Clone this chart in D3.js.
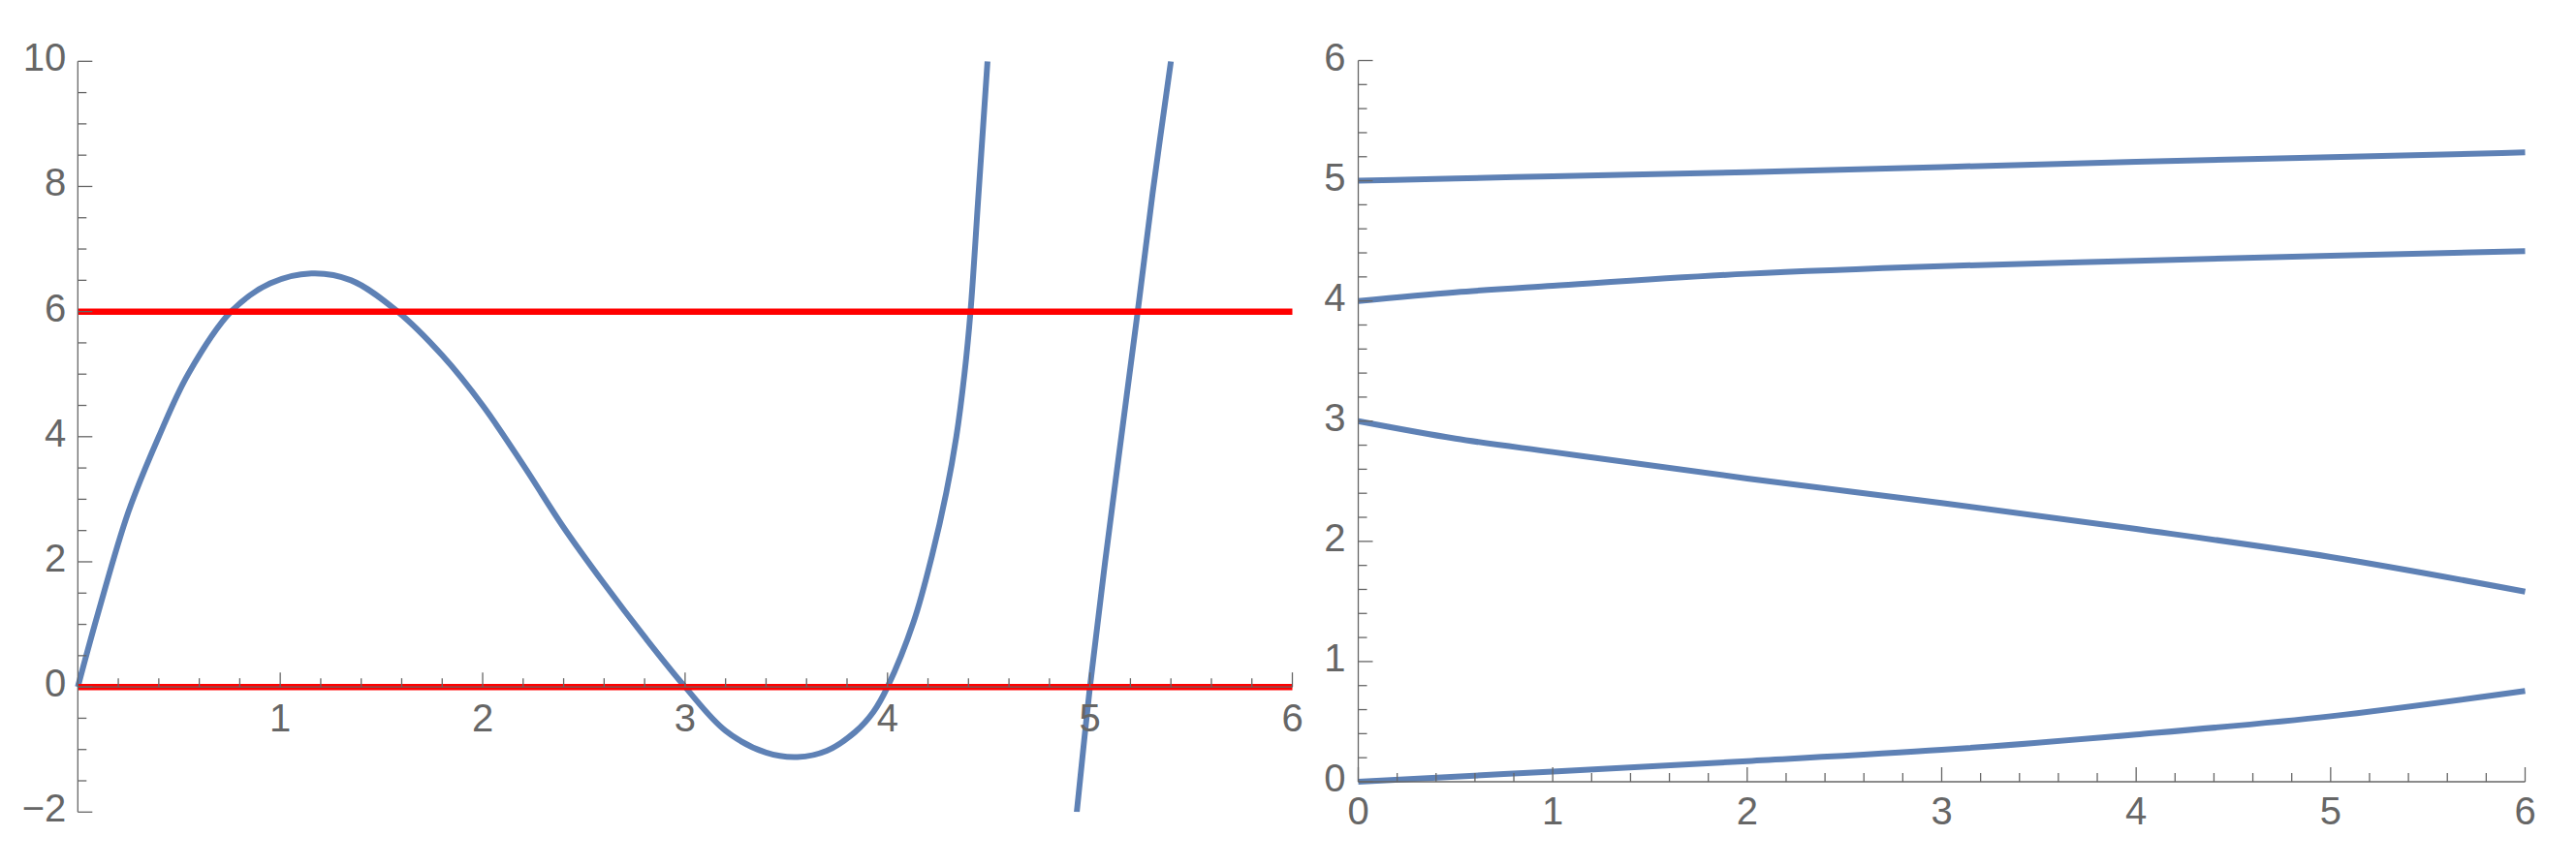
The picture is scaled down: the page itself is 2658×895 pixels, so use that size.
<!DOCTYPE html>
<html>
<head>
<meta charset="utf-8">
<script src="https://cdn.jsdelivr.net/npm/d3@7"></script>
<style>
	html, body { margin: 0; padding: 0; background: #fff; }
	svg { display: block; }
</style>
</head>
<body>
<div id="chart"></div>
<script>
// Two panels: f(lambda) with level lines (left), roots of f = t (right)

// ---- data ----
// left panel, first branch (lambda, f)
const branch1Lambda = [0, 0.1, 0.25, 0.4, 0.545, 0.757, 0.95, 1.154, 1.35, 1.58, 1.8, 2.0, 2.2, 2.4, 2.6, 2.8, 3.0, 3.2, 3.4, 3.555, 3.7, 3.84, 3.93, 4.0, 4.13, 4.22, 4.29, 4.34, 4.38, 4.41, 4.45, 4.494];
const branch1F = [0, 1.18, 2.8, 4.0, 5.0, 6.0, 6.45, 6.61, 6.5, 6.0, 5.3, 4.5, 3.55, 2.55, 1.65, 0.8, 0, -0.7, -1.05, -1.12, -1.02, -0.72, -0.4, 0, 1.05, 2.1, 3.1, 4.0, 5.0, 6.0, 7.9, 10.0];
// left panel, second branch
const branch2Lambda = [4.935, 5.0, 5.075, 5.155, 5.236, 5.31, 5.4];
const branch2F = [-2.0, 0, 2.0, 4.0, 6.0, 7.9, 10.0];
// horizontal level lines
const levels = [0, 6];

// right panel: t values and the four roots
const tValues = [0, 0.5, 1, 2, 3, 4, 5, 6];
const rootA = [0, 0.043, 0.085, 0.172, 0.265, 0.393, 0.545, 0.755];
const rootB = [3.0, 2.855, 2.743, 2.523, 2.319, 2.103, 1.87, 1.582];
const rootC = [4.0, 4.072, 4.126, 4.226, 4.29, 4.334, 4.376, 4.414];
const rootD = [5.0, 5.019, 5.037, 5.072, 5.114, 5.158, 5.196, 5.236];

// tick labels
const leftXTicks = [1, 2, 3, 4, 5, 6];
const leftYTicks = [-2, 0, 2, 4, 6, 8, 10];
const rightXTicks = [0, 1, 2, 3, 4, 5, 6];
const rightYTicks = [0, 1, 2, 3, 4, 5, 6];

// ---- layout ----
const width = 2658;
const height = 895;
const axisColor = '#666666';
const curveColor = '#5e81b5';
const levelColor = '#ff0000';
const fontSize = 40;

const svg = d3.select('#chart')
	.append('svg')
	.attr('width', width)
	.attr('height', height)
	.attr('viewBox', `0 0 ${width} ${height}`)
	.style('font-family', "'Liberation Sans', Arial, sans-serif");

svg.append('rect').attr('width', width).attr('height', height).attr('fill', '#fff');

const xL = d3.scaleLinear().domain([0, 6]).range([80.3, 1333.5]);
const yL = d3.scaleLinear().domain([-2, 10]).range([838.3, 63.3]);
const xR = d3.scaleLinear().domain([0, 6]).range([1401.5, 2605.5]);
const yR = d3.scaleLinear().domain([0, 6]).range([807, 62.5]);

const line = (xs, ys, curve) => d3.line()
	.x(d => xs(d[0]))
	.y(d => ys(d[1]))
	.curve(curve);

// clip for left plot range
svg.append('clipPath').attr('id', 'clipL')
	.append('rect')
	.attr('x', xL(0) - 10).attr('y', yL(10))
	.attr('width', xL(6) - xL(0) + 20).attr('height', yL(-2) - yL(10));

const left = svg.append('g').attr('clip-path', 'url(#clipL)');

const b1 = d3.zip(branch1Lambda, branch1F);
const b2 = d3.zip(branch2Lambda, branch2F);

left.selectAll('path.branch')
	.data([b1, b2])
	.enter()
	.append('path')
	.attr('class', 'branch')
	.attr('d', line(xL, yL, d3.curveCatmullRom.alpha(0.5)))
	.attr('fill', 'none')
	.attr('stroke', curveColor)
	.attr('stroke-width', 6)
	.attr('stroke-linejoin', 'round');

left.selectAll('line.level')
	.data(levels)
	.enter()
	.append('line')
	.attr('class', 'level')
	.attr('x1', xL(0)).attr('x2', xL(6))
	.attr('y1', d => yL(d)).attr('y2', d => yL(d))
	.attr('stroke', levelColor)
	.attr('stroke-width', 6.5);

// right curves
const roots = [rootA, rootB, rootC, rootD].map(r => d3.zip(tValues, r));
svg.append('g').selectAll('path')
	.data(roots)
	.enter()
	.append('path')
	.attr('d', line(xR, yR, d3.curveMonotoneX))
	.attr('fill', 'none')
	.attr('stroke', curveColor)
	.attr('stroke-width', 6)
	.attr('stroke-linejoin', 'round');

// ---- axes (drawn on top) ----
function drawAxes(xs, ys, xTicks, yTicks, xMinor, yMinor, xAxisY, yAxisX, opts) {
	const g = svg.append('g')
		.attr('stroke', axisColor)
		.attr('stroke-width', 1.3);

	const [x0, x1] = xs.range();
	const [y0, y1] = ys.range();
	g.append('line').attr('x1', x0).attr('x2', x1).attr('y1', xAxisY).attr('y2', xAxisY);
	g.append('line').attr('x1', yAxisX).attr('x2', yAxisX).attr('y1', y0).attr('y2', y1);

	// x ticks point up
	g.selectAll('line.xminor')
		.data(xMinor)
		.enter().append('line')
		.attr('x1', d => xs(d)).attr('x2', d => xs(d))
		.attr('y1', xAxisY).attr('y2', xAxisY - 9);
	g.selectAll('line.xmajor')
		.data(xTicks)
		.enter().append('line')
		.attr('x1', d => xs(d)).attr('x2', d => xs(d))
		.attr('y1', xAxisY).attr('y2', xAxisY - 15);

	// y ticks point right
	g.selectAll('line.yminor')
		.data(yMinor)
		.enter().append('line')
		.attr('y1', d => ys(d)).attr('y2', d => ys(d))
		.attr('x1', yAxisX).attr('x2', yAxisX + 9);
	g.selectAll('line.ymajor')
		.data(yTicks)
		.enter().append('line')
		.attr('y1', d => ys(d)).attr('y2', d => ys(d))
		.attr('x1', yAxisX).attr('x2', yAxisX + 15);

	const t = svg.append('g')
		.attr('fill', axisColor)
		.style('font-size', fontSize + 'px');

	t.selectAll('text.xl')
		.data(xTicks)
		.enter().append('text')
		.attr('x', d => xs(d))
		.attr('y', xAxisY + opts.xLabelDy)
		.attr('text-anchor', 'middle')
		.text(d => d);

	t.selectAll('text.yl')
		.data(yTicks)
		.enter().append('text')
		.attr('x', yAxisX - opts.yLabelGap)
		.attr('y', d => ys(d) + 10)
		.attr('text-anchor', 'end')
		.text(d => d < 0 ? '\u2212' + Math.abs(d) : d);
}

const leftXMinor = d3.ticks(0, 6, 30).filter(d => !Number.isInteger(d));
const leftYMinor = d3.ticks(-2, 10, 24).filter(d => d % 2 !== 0);
const rightMinor = d3.ticks(0, 6, 30).filter(d => !Number.isInteger(d));

drawAxes(xL, yL, leftXTicks, leftYTicks, leftXMinor, leftYMinor, yL(0), xL(0), { xLabelDy: 46, yLabelGap: 12 });
drawAxes(xR, yR, rightXTicks, rightYTicks, rightMinor, rightMinor, yR(0), xR(0), { xLabelDy: 44, yLabelGap: 13 });
</script>
</body>
</html>
